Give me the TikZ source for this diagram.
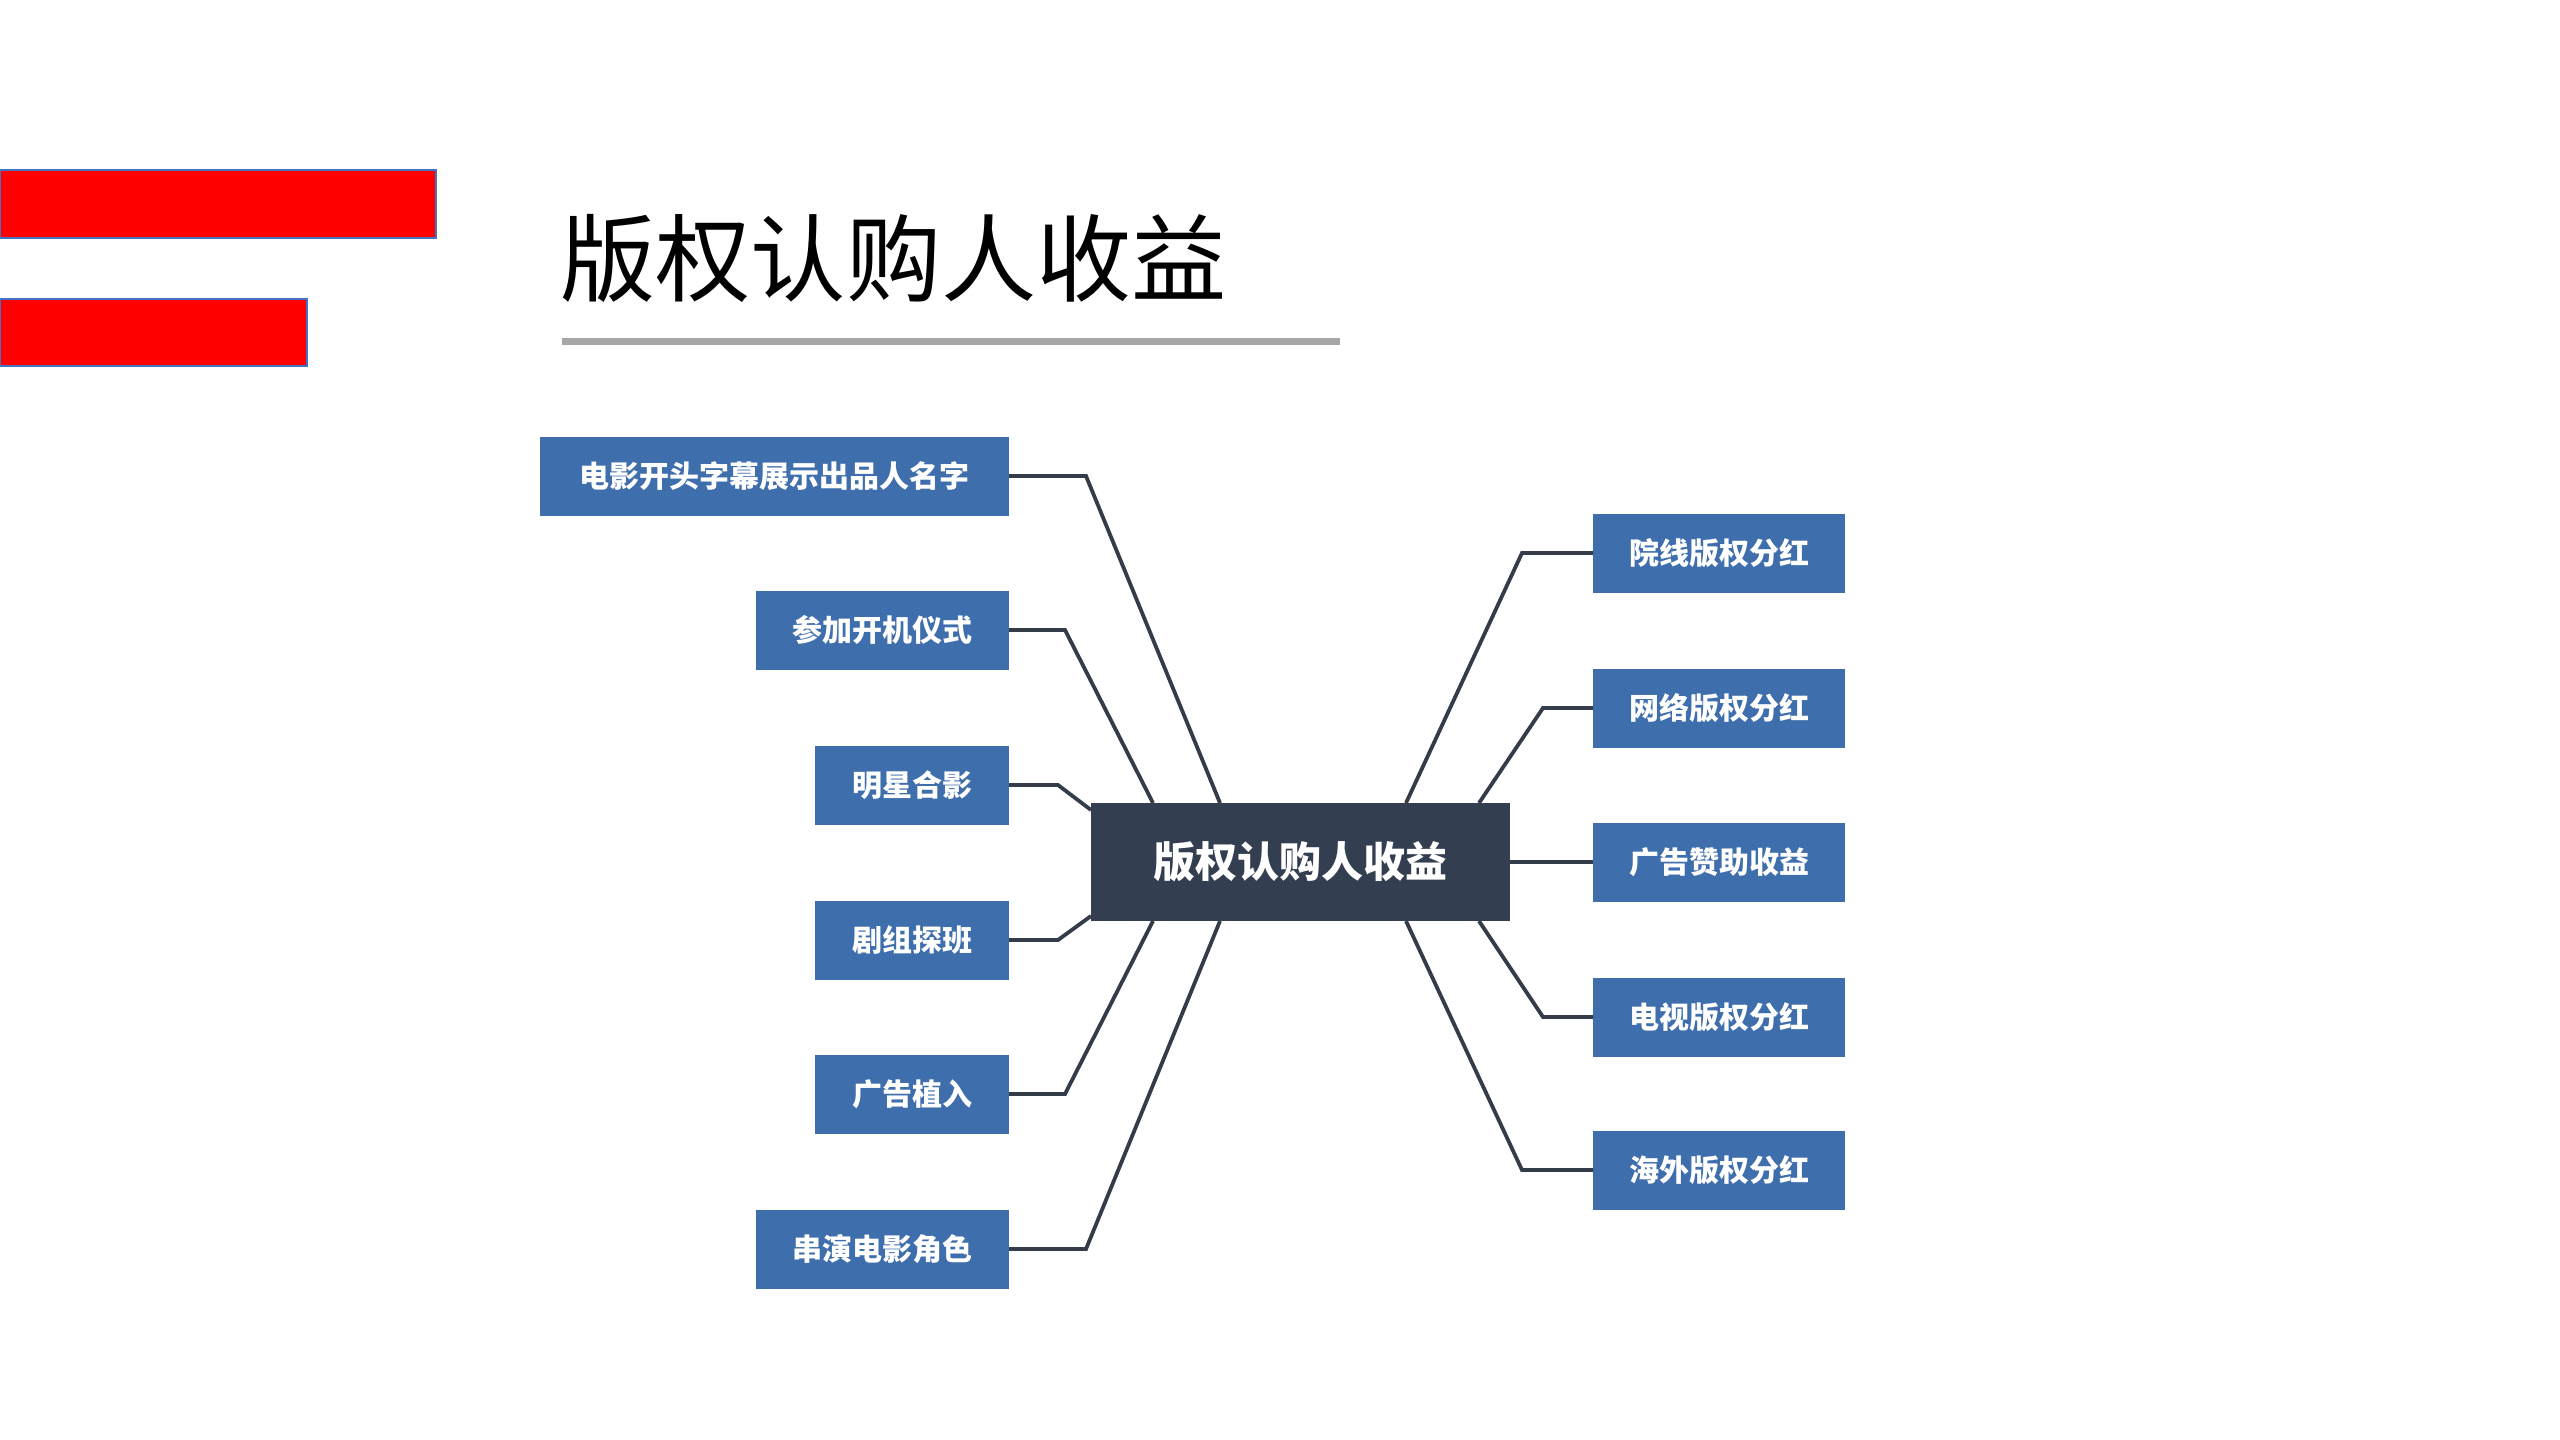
\documentclass[tikz,border=0pt]{standalone}
\usepackage{fontspec}
\newfontfamily\cjk{Noto Sans CJK SC}
\usetikzlibrary{positioning,calc}
\definecolor{boxblue}{HTML}{3F6EAC}
\definecolor{hubdark}{HTML}{333F50}
\definecolor{linkdark}{HTML}{333C48}
\definecolor{barblue}{HTML}{4472C4}
\definecolor{rulegray}{HTML}{A6A6A6}

\begin{document}
\begin{tikzpicture}[
        x = 0.5pt,
        y = -0.5pt,
        leaf/.style = {
            fill=boxblue,
            text=white,
            font=\cjk\bfseries\fontsize{15}{15}\selectfont,
            minimum width = #1,
            minimum height = 39.5pt,
            inner sep = 0pt,
            outer sep = 0pt
        },
        leaf/.default = 126pt,
        hub/.style = {
            fill=hubdark,
            text=white,
            font=\cjk\bfseries\fontsize{21}{21}\selectfont,
            minimum width = 209.5pt,
            minimum height = 59pt,
            inner sep = 0pt,
            outer sep = 0pt
        },
        link/.style = {draw=linkdark, line width = 1.9pt},
        bar/.style = {fill=red, draw=barblue, line width = 1.4pt}
    ]
    \useasboundingbox (0,0) rectangle (2560,1440);

    \draw[bar] (0,170) rectangle (436,238);
    \draw[bar] (0,299) rectangle (307,366);
    \node[anchor=west, inner sep=0pt, font=\cjk\fontsize{47.6}{47.6}\selectfont] (title) at (560,258) {版权认购人收益};
    \fill[rulegray] (562,338) rectangle (1340,345);

    \node[hub] (hub) at (1300.5,862) {版权认购人收益};

    \node[leaf=234.5pt, anchor=east] (l1) at (1009,476) {电影开头字幕展示出品人名字};
    \node[leaf=126.5pt, anchor=east] (l2) at (1009,630) {参加开机仪式};
    \node[leaf=97pt, anchor=east] (l3) at (1009,785) {明星合影};
    \node[leaf=97pt, anchor=east] (l4) at (1009,940) {剧组探班};
    \node[leaf=97pt, anchor=east] (l5) at (1009,1094) {广告植入};
    \node[leaf=126.5pt, anchor=east] (l6) at (1009,1249) {串演电影角色};

    \node[leaf, anchor=west] (r1) at (1593,553) {院线版权分红};
    \node[leaf, anchor=west] (r2) at (1593,708) {网络版权分红};
    \node[leaf, anchor=west] (r3) at (1593,862) {广告赞助收益};
    \node[leaf, anchor=west] (r4) at (1593,1017) {电视版权分红};
    \node[leaf, anchor=west] (r5) at (1593,1170) {海外版权分红};

    \draw[link] (l1.east) -- ++(77,0) -- ($(hub.north)+(-80.5,0)$);
    \draw[link] (l2.east) -- ++(56,0) -- ($(hub.north)+(-147.5,0)$);
    \draw[link] (l3.east) -- ++(49,0) -- ($(hub.west)+(0,-52)$);
    \draw[link] (l4.east) -- ++(49,0) -- ($(hub.west)+(0,54)$);
    \draw[link] (l5.east) -- ++(56,0) -- ($(hub.south)+(-147.5,0)$);
    \draw[link] (l6.east) -- ++(77,0) -- ($(hub.south)+(-80.5,0)$);

    \draw[link] (r1.west) -- ++(-71,0) -- ($(hub.north)+(105.5,0)$);
    \draw[link] (r2.west) -- ++(-50,0) -- ($(hub.north)+(178.5,0)$);
    \draw[link] (r3.west) -- (hub.east);
    \draw[link] (r4.west) -- ++(-50,0) -- ($(hub.south)+(178.5,0)$);
    \draw[link] (r5.west) -- ++(-71,0) -- ($(hub.south)+(105.5,0)$);
\end{tikzpicture}
\end{document}
